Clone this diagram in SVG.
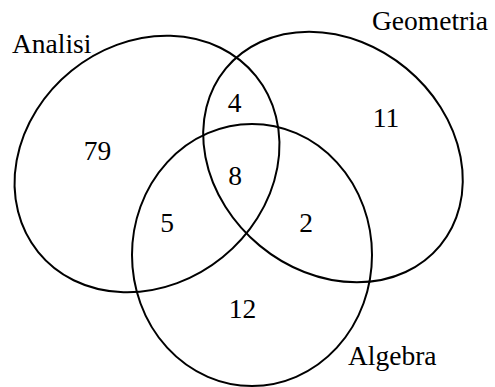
<svg xmlns="http://www.w3.org/2000/svg" width="495" height="387" viewBox="0 0 495 387">
<style>
.set{fill:none;stroke:#000;stroke-width:2}
.t{font-family:'Liberation Serif','Times New Roman',Times,'DejaVu Serif',serif;font-size:27.5px;fill:#000}
.n{text-anchor:middle}
</style>
<rect width="495" height="387" fill="#fff"/>
<g id="analisi">
<ellipse class="set" cx="147" cy="164" rx="140" ry="120" transform="rotate(-39 147 164)"/>
<text class="t" x="12" y="53" font-family="Liberation Serif, serif">Analisi</text>
</g>
<g id="geometria">
<ellipse class="set" cx="333" cy="157" rx="139" ry="115" transform="rotate(39.6 333 157)"/>
<text class="t" x="372" y="30">Geometria</text>
</g>
<g id="algebra">
<ellipse class="set" cx="252" cy="255" rx="120" ry="131"/>
<text class="t" x="348" y="365">Algebra</text>
</g>
<g id="regions" class="t n">
<text x="97.5" y="160">79</text>
<text x="234.5" y="112">4</text>
<text x="235" y="185">8</text>
<text x="386" y="127">11</text>
<text x="167" y="232">5</text>
<text x="306" y="232">2</text>
<text x="242.5" y="318">12</text>
</g>
</svg>
